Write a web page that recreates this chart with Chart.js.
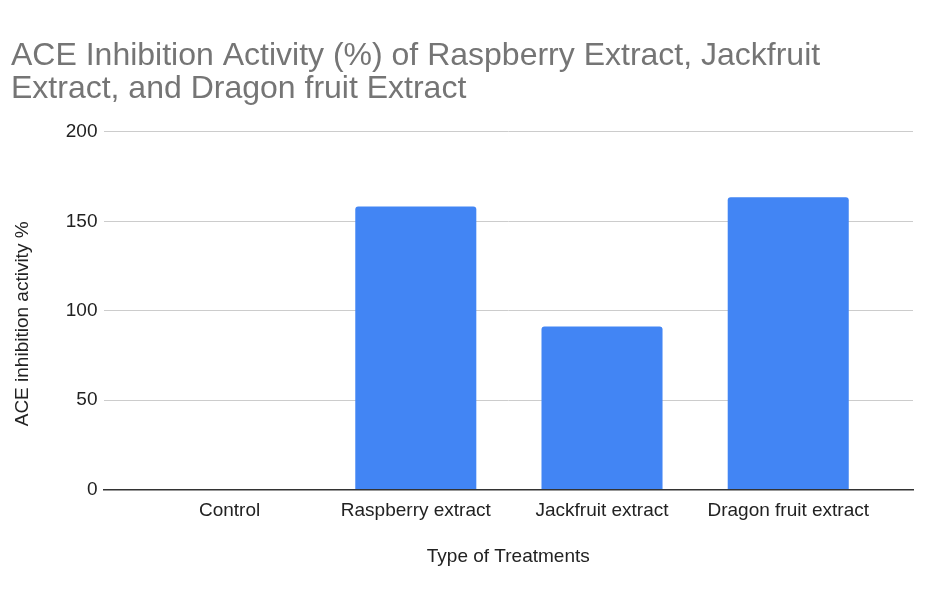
<!DOCTYPE html>
<html>
<head>
<meta charset="utf-8">
<script src="https://cdn.jsdelivr.net/npm/chart.js@4"></script>
<style>
  body { margin: 0; background: #fff; }
  #wrap { width: 930px; height: 592px; }
</style>
</head>
<body>
<div id="wrap"><canvas id="aceChart" width="930" height="592"></canvas></div>
<script>
// ACE inhibition results per treatment
const treatments = ["Control", "Raspberry extract", "Jackfruit extract", "Dragon fruit extract"];
const inhibition = [0, 158.3, 91.2, 163.5];
const yTicks = [0, 50, 100, 150, 200];

const FONT = "'Liberation Sans', Arial, sans-serif";
const axisFont = { family: FONT, size: 19 };

// linear x axis so the bands can sit inset from the gridline ends
const points = treatments.map((t, i) => ({ x: i, y: inhibition[i] }));

new Chart(document.getElementById("aceChart"), {
    type: "bar",
    data: {
        datasets: [{
            label: "ACE inhibition activity %",
            data: points,
            backgroundColor: "#4285f4",
            borderRadius: { topLeft: 3, topRight: 3 },
            borderSkipped: "bottom",
            categoryPercentage: 0.65,
            barPercentage: 1
        }]
    },
    options: {
        responsive: false,
        animation: false,
        layout: { padding: { left: 11, right: 17, top: 0, bottom: 24 } },
        plugins: {
            legend: { display: false },
            tooltip: { enabled: false },
            title: {
                display: true,
                text: ["ACE Inhibition Activity (%) of Raspberry Extract, Jackfruit", "Extract, and Dragon fruit Extract"],
                align: "start",
                color: "#757575",
                font: { family: FONT, size: 32, weight: "normal", lineHeight: 1.03 },
                padding: { top: 40, bottom: 26 }
            }
        },
        scales: {
            x: {
                type: "linear",
                min: -0.677,
                max: 3.67,
                offset: false,
                afterBuildTicks: axis => {
                    axis.ticks = treatments.map((_, i) => ({ value: i }));
                },
                ticks: {
                    autoSkip: false,
                    maxRotation: 0,
                    color: "#222",
                    padding: 10,
                    font: axisFont,
                    callback: value => treatments[value]
                },
                grid: { display: false, drawTicks: false },
                border: { display: true, color: "#333", width: 1.5 },
                title: {
                    display: true,
                    text: "Type of Treatments",
                    color: "#222",
                    font: axisFont,
                    padding: { top: 13, bottom: 0 }
                }
            },
            y: {
                min: 0,
                max: 200,
                afterBuildTicks: axis => {
                    axis.ticks = yTicks.map(v => ({ value: v }));
                },
                ticks: {
                    color: "#222",
                    padding: 6,
                    font: axisFont
                },
                grid: { color: "#cccccc", lineWidth: 1, drawTicks: false },
                border: { display: false },
                title: {
                    display: true,
                    // trailing spaces nudge the rotated label a little below centre
                    text: "ACE inhibition activity %     ",
                    color: "#222",
                    font: axisFont,
                    padding: { top: 0, bottom: 26 }
                }
            }
        }
    }
});
</script>
</body>
</html>
